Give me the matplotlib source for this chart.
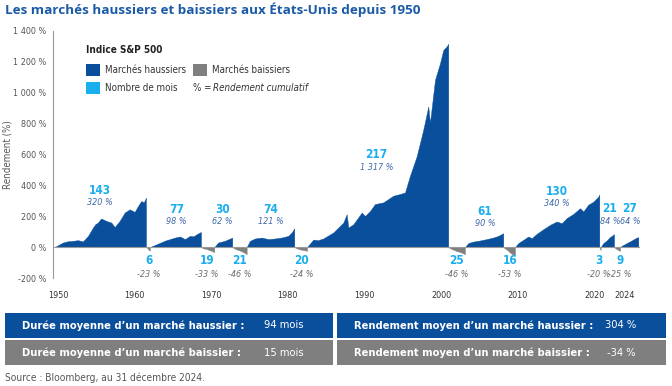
import matplotlib
matplotlib.use("Agg")
import matplotlib.pyplot as plt
from matplotlib.patches import Rectangle

plt.rcParams["font.family"] = ["DejaVu Sans"]
plt.rcParams["font.stretch"] = "condensed"

# Colours
BULL = "#0a4f9c"
BEAR = "#7f7f7f"
CYAN = "#1aaeef"
TITLE = "#1a5aa8"

# Bull markets: (years, cumulative return %)
bull_years = [
    [1949.57, 1950.65, 1951.3, 1951.96, 1952.61, 1953.26, 1953.92, 1954.57, 1954.9, 1955.22, 1955.6,
     1955.87, 1956.31, 1956.96, 1957.4, 1958.05, 1958.71, 1959.36, 1960.01, 1960.44, 1960.87, 1961.2, 1961.49],
    [1962.01, 1963.32, 1963.97, 1964.62, 1965.27, 1965.93, 1966.58, 1967.23, 1967.7, 1968.11, 1968.54, 1968.67],
    [1970.40, 1970.92, 1971.4, 1971.8, 1972.19, 1972.45, 1972.75],
    [1974.63, 1975.07, 1975.72, 1976.59, 1977.45, 1978.33, 1979.2, 1980.07, 1980.51, 1980.85],
    [1982.51, 1983.33, 1983.94, 1984.63, 1985.94, 1987.25, 1987.69, 1987.9, 1988.55, 1989.65, 1990.08,
     1990.73, 1991.38, 1992.47, 1993.77, 1994.65, 1995.3, 1995.95, 1996.83, 1997.69, 1998.34, 1998.56,
     1999.22, 1999.87, 2000.3, 2000.74, 2000.95],
    [2003.13, 2003.56, 2004.22, 2005.09, 2005.97, 2006.83, 2007.48, 2008.13],
    [2009.66, 2010.09, 2010.74, 2011.4, 2011.84, 2012.49, 2013.36, 2014.23, 2015.11, 2015.76, 2016.41,
     2017.27, 2018.15, 2018.58, 2019.23, 2019.88, 2020.54, 2020.67],
    [2020.85, 2021.19, 2021.63, 2022.06, 2022.49, 2022.59],
    [2023.37, 2023.59, 2024.24, 2024.89, 2025.55, 2025.76],
]
bull_values = [
    [0, 30, 38, 41, 45, 37, 73, 127, 150, 159, 185, 180, 170, 159, 130, 170, 224, 245, 228, 266, 299, 290, 320],
    [0, 28, 42, 52, 62, 69, 52, 73, 70, 84, 95, 98],
    [0, 30, 36, 41, 50, 55, 62],
    [0, 41, 56, 62, 52, 56, 62, 73, 95, 121],
    [0, 49, 45, 56, 95, 159, 213, 127, 148, 224, 202, 234, 279, 290, 333, 344, 354, 462, 589, 761, 911,
     805, 1084, 1191, 1277, 1300, 1317],
    [0, 26, 36, 43, 52, 62, 73, 90],
    [0, 26, 47, 69, 58, 86, 116, 144, 166, 155, 188, 215, 252, 231, 275, 294, 327, 340],
    [0, 26, 43, 65, 80, 84],
    [0, 8, 26, 43, 62, 64],
]

# Bear markets
bear_years = [
    [1961.49, 1961.7, 1961.85, 1962.0],
    [1968.67, 1969.0, 1969.4, 1969.8, 1970.1, 1970.4],
    [1972.75, 1973.1, 1973.5, 1973.9, 1974.3, 1974.63],
    [1980.85, 1981.2, 1981.6, 1982.0, 1982.51],
    [2000.95, 2001.3, 2001.7, 2002.0, 2002.4, 2002.8, 2003.13],
    [2008.13, 2008.4, 2008.7, 2009.0, 2009.3, 2009.66],
    [2020.67, 2020.85],
    [2022.59, 2022.9, 2023.37],
]
bear_values = [
    [0, -8, -18, -23],
    [0, -8, -12, -20, -25, -33],
    [0, -10, -18, -25, -35, -46],
    [0, -8, -15, -18, -24],
    [0, -10, -18, -25, -30, -38, -46],
    [0, -10, -20, -35, -45, -53],
    [0, -20],
    [0, -12, -25],
]

bull_months = ["143", "77", "30", "74", "217", "61", "130", "21", "27"]
bull_returns = ["320 %", "98 %", "62 %", "121 %", "1 317 %", "90 %", "340 %", "84 %", "64 %"]
bull_label_x = [1955.48, 1965.5, 1971.5, 1977.77, 1991.6, 2005.74, 2015.1, 2022.06, 2024.67]
bull_label_y = [368, 243, 243, 243, 598, 232, 361, 248, 248]

bear_months = ["6", "19", "21", "20", "25", "16", "3", "9"]
bear_returns = ["-23 %", "-33 %", "-46 %", "-24 %", "-46 %", "-53 %", "-20 %", "-25 %"]
bear_label_x = [1961.88, 1969.41, 1973.76, 1981.81, 2002.05, 2009.01, 2020.62, 2023.4]

year_ticks = [1950, 1960, 1970, 1980, 1990, 2000, 2010, 2020, 2024]
pct_ticks = [-200, 0, 200, 400, 600, 800, 1000, 1200, 1400]

summary = [
    ["Durée moyenne d’un marché haussier :", "94 mois", "Rendement moyen d’un marché haussier :", "304 %"],
    ["Durée moyenne d’un marché baissier :", "15 mois", "Rendement moyen d’un marché baissier :", "-34 %"],
]

W, H = 672, 386
fig = plt.figure(figsize=(W / 100, H / 100), dpi=100)


def fx(x):
    return x / W


def fy(y):
    return 1 - y / H


ax = fig.add_axes([fx(53), fy(278), (640 - 53) / W, (278 - 31) / H])
ax.set_xlim(1949.35, 2025.98)
ax.set_ylim(-200, 1400)

for xs, vs in zip(bull_years, bull_values):
    ax.fill_between(xs, vs, 0, color=BULL, linewidth=0.3, edgecolor=BULL)
for xs, vs in zip(bear_years, bear_values):
    ax.fill_between(xs, vs, 0, color=BEAR, linewidth=0.3, edgecolor=BEAR)

ax.axhline(0, color="#9a9a9a", linewidth=0.8)

for x, y, m, r in zip(bull_label_x, bull_label_y, bull_months, bull_returns):
    ax.text(x, y, m, color=CYAN, fontsize=8.5, fontweight="bold", ha="center", va="center")
    ax.text(x, y - 80, r, color="#4169a8", fontsize=6.5, style="italic", ha="center", va="center")

for x, m, r in zip(bear_label_x, bear_months, bear_returns):
    ax.text(x, -88, m, color=CYAN, fontsize=8.5, fontweight="bold", ha="center", va="center")
    ax.text(x, -176, r, color="#6d6d6d", fontsize=6.5, style="italic", ha="center", va="center")

ax.set_yticks(pct_ticks)
ax.set_yticklabels([f"{v:,} %".replace(",", " ") for v in pct_ticks])
ax.set_xticks(year_ticks)
ax.set_xticklabels([str(v) for v in year_ticks])
ax.tick_params(axis="both", length=0, labelsize=6.5, colors="#555555")
ax.tick_params(axis="x", pad=9, colors="#333333")
ax.tick_params(axis="y", pad=5)
for s in ["top", "right", "bottom"]:
    ax.spines[s].set_visible(False)
ax.spines["left"].set_color("#9a9a9a")
ax.spines["left"].set_linewidth(0.8)
ax.set_ylabel("Rendement (%)", fontsize=7, color="#555555")
ax.yaxis.set_label_coords((13 - 53) / 587, 0.5)

# Title
fig.text(fx(5), fy(10), "Les marchés haussiers et baissiers aux États-Unis depuis 1950",
         color=TITLE, fontsize=9.7, fontweight="bold", va="center", ha="left",
         family=["Open Sans", "DejaVu Sans"], fontstretch="normal")

# Legend
fig.text(fx(86), fy(50), "Indice S&P 500", fontsize=7.2, fontweight="bold", color="#222222", va="center")
legend_items = [(86, 64, BULL, "Marchés haussiers"), (193, 64, BEAR, "Marchés baissiers"),
                (86, 82, CYAN, "Nombre de mois")]
for lx, ly, c, lab in legend_items:
    fig.patches.append(Rectangle((fx(lx), fy(ly + 12)), 14 / W, 12 / H, transform=fig.transFigure,
                                 facecolor=c, edgecolor="none"))
    fig.text(fx(lx + 19), fy(ly + 6), lab, fontsize=7, color="#333333", va="center")
fig.text(fx(193), fy(88), "% =", fontsize=7, color="#333333", va="center")
fig.text(fx(213), fy(88), "Rendement cumulatif", fontsize=7, color="#333333", va="center", style="italic")

# Summary table
row_colors = [BULL, BEAR]
for i, row in enumerate(summary):
    top = 313 + i * 27
    for bx, bw in [(5, 328), (337, 329)]:
        fig.patches.append(Rectangle((fx(bx), fy(top + 25)), bw / W, 25 / H, transform=fig.transFigure,
                                     facecolor=row_colors[i], edgecolor="none"))
    yc = fy(top + 12.5)
    fig.text(fx(22), yc, row[0], color="white", fontsize=8, fontweight="bold", va="center")
    fig.text(fx(264), yc, row[1], color="white", fontsize=8, va="center")
    fig.text(fx(354), yc, row[2], color="white", fontsize=8, fontweight="bold", va="center")
    fig.text(fx(636), yc, row[3], color="white", fontsize=8, va="center", ha="right")

fig.text(fx(5), fy(378), "Source : Bloomberg, au 31 décembre 2024.", fontsize=7.3, color="#555555", va="center")

fig.savefig("out.png", dpi=100)
